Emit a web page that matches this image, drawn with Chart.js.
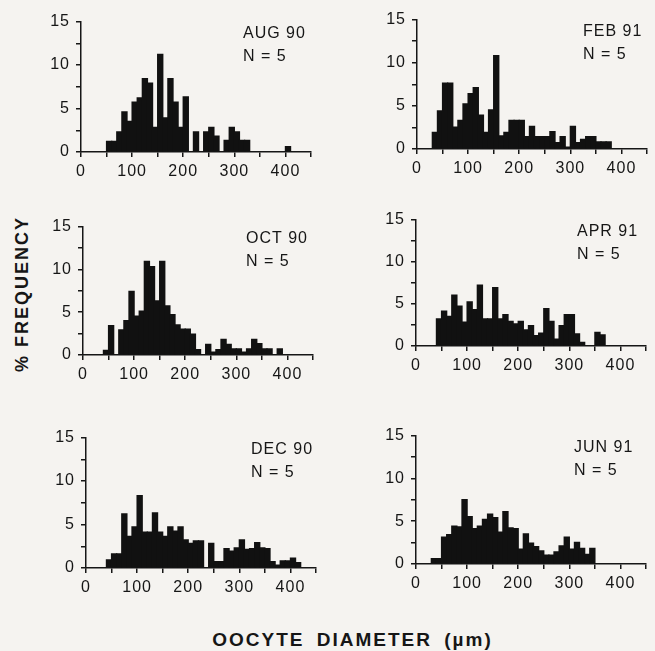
<!DOCTYPE html>
<html>
<head>
<meta charset="utf-8">
<script src="https://cdn.jsdelivr.net/npm/chart.js@4.4.1/dist/chart.umd.min.js"></script>
<style>
  html, body { margin: 0; padding: 0; background: #f5f3f0; }
  body { width: 655px; height: 651px; position: relative; overflow: hidden; font-family: "Liberation Sans", Arial, sans-serif; color: #161616; }
  .panel { position: absolute; }
  .ytitle { position: absolute; left: 22px; top: 294px; transform: translate(-50%, -50%) rotate(-90deg); font-weight: bold; font-size: 18px; letter-spacing: 2px; white-space: nowrap; line-height: 1; }
  .xtitle { position: absolute; left: 0; width: 705px; top: 630px; text-align: center; font-weight: bold; font-size: 19px; letter-spacing: 2px; word-spacing: 5px; white-space: nowrap; line-height: 1; }
</style>
</head>
<body>
<div class="panel" style="left:36px;top:6px"><canvas id="c0" width="285" height="174"></canvas></div>
<div class="panel" style="left:372px;top:4px"><canvas id="c1" width="285" height="173"></canvas></div>
<div class="panel" style="left:38px;top:211px"><canvas id="c2" width="285" height="172"></canvas></div>
<div class="panel" style="left:371px;top:204px"><canvas id="c3" width="285" height="170"></canvas></div>
<div class="panel" style="left:41px;top:422px"><canvas id="c4" width="285" height="174"></canvas></div>
<div class="panel" style="left:371px;top:420px"><canvas id="c5" width="285" height="172"></canvas></div>
<div class="ytitle">% FREQUENCY</div>
<div class="xtitle">OOCYTE DIAMETER (µm)</div>
<script>
// left edge of each 10 µm size class
const binStart = [0, 10, 20, 30, 40, 50, 60, 70, 80, 90,
    100, 110, 120, 130, 140, 150, 160, 170, 180, 190,
    200, 210, 220, 230, 240, 250, 260, 270, 280, 290,
    300, 310, 320, 330, 340, 350, 360, 370, 380, 390,
    400, 410, 420, 430, 440];

// % frequency per size class
const aug90 = [0, 0, 0, 0, 0, 1.3, 1.3, 2.4, 4.7, 3.6,
    5.8, 6.3, 8.5, 8.0, 2.9, 11.3, 4.0, 8.5, 5.8, 2.9,
    6.4, 0, 2.4, 0, 2.4, 2.9, 1.9, 0, 1.4, 2.9,
    2.4, 1.4, 1.4, 0, 0, 0, 0, 0, 0, 0,
    0.7, 0, 0, 0, 0];
const feb91 = [0, 0, 0, 2.0, 4.5, 7.7, 7.7, 2.6, 3.4, 5.3,
    6.5, 7.2, 4.0, 2.0, 4.6, 10.9, 1.6, 2.0, 3.4, 3.4,
    3.4, 1.5, 2.7, 1.5, 1.5, 1.5, 2.1, 0.8, 1.5, 0.3,
    2.7, 0.8, 1.2, 1.5, 1.5, 0.9, 0.9, 0.9, 0, 0,
    0, 0, 0, 0, 0];
const oct90 = [0, 0, 0, 0, 0.6, 3.5, 0, 3.0, 4.1, 7.5,
    4.6, 5.2, 11.0, 10.4, 6.4, 11.0, 5.8, 4.8, 3.6, 3.1,
    3.1, 2.5, 0.7, 0, 1.3, 0.4, 0.7, 1.9, 1.3, 0.8,
    0.8, 0.4, 0.8, 1.9, 1.4, 0.8, 0.8, 0, 0.8, 0,
    0, 0, 0, 0, 0];
const apr91 = [0, 0, 0, 0, 3.3, 4.2, 3.6, 6.1, 4.8, 2.9,
    5.3, 4.4, 7.3, 3.3, 3.3, 7.0, 3.3, 3.8, 3.0, 2.7,
    3.0, 2.0, 2.5, 1.3, 1.6, 4.5, 3.0, 0.9, 2.5, 3.8,
    3.8, 1.5, 0.5, 0.1, 0, 1.7, 1.4, 0, 0, 0,
    0, 0, 0, 0, 0];
const dec90 = [0, 0, 0, 0, 1.0, 1.7, 1.7, 6.3, 3.7, 4.8,
    8.4, 4.2, 4.2, 6.4, 4.2, 3.7, 4.8, 4.3, 4.8, 3.3,
    2.9, 3.2, 3.2, 0, 2.9, 0.8, 0.8, 2.3, 2.0, 2.4,
    3.3, 2.2, 2.3, 3.0, 2.4, 2.3, 0.8, 0.4, 0.9, 0.9,
    1.2, 0.7, 0, 0, 0];
const jun91 = [0, 0, 0, 0.7, 0.7, 3.2, 3.5, 4.5, 4.4, 7.6,
    5.6, 4.2, 4.5, 5.3, 5.9, 5.5, 3.8, 6.2, 4.3, 4.2,
    1.8, 3.6, 2.5, 2.1, 1.6, 1.1, 1.1, 1.5, 2.2, 3.2,
    1.8, 2.6, 1.9, 1.2, 1.9, 0, 0, 0, 0, 0,
    0, 0, 0, 0, 0];

const panelMonths = ['AUG 90', 'FEB 91', 'OCT 90', 'APR 91', 'DEC 90', 'JUN 91'];
const panelSeries = [aug90, feb91, oct90, apr91, dec90, jun91];
const sampleSize = [5, 5, 5, 5, 5, 5];
const xTickLabels = [0, 100, 200, 300, 400];
const yTickLabels = [0, 5, 10, 15];

// where the month label sits, measured from the right edge of the plot
const labelDx = [68, 64, 67, 69, 65, 72];

const FONT = '"Liberation Sans", Arial, sans-serif';
const INK = '#161616';

const spacing = {
    id: 'spacing',
    beforeDraw(chart) {
        chart.ctx.letterSpacing = '1px';
    }
};

const panelLabel = {
    id: 'panelLabel',
    afterDraw(chart, args, opts) {
        const { ctx, chartArea } = chart;
        ctx.save();
        ctx.font = '16px ' + FONT;
        ctx.letterSpacing = '1px';
        ctx.fillStyle = INK;
        ctx.textAlign = 'left';
        ctx.textBaseline = 'alphabetic';
        const x = chartArea.right - opts.dx;
        ctx.fillText(opts.month, x, chartArea.top + 16);
        ctx.fillText('N = ' + opts.n, x, chartArea.top + 39);
        ctx.restore();
    }
};

function NewHistogram(i) {
    const ctx = document.getElementById('c' + i).getContext('2d');
    const values = panelSeries[i];
    const config = {
        type: 'bar',
        data: {
            datasets: [{
                data: values.map((v, k) => ({ x: binStart[k] + 5, y: v })),
                backgroundColor: '#111111',
                borderWidth: 0,
                inflateAmount: 0,
                // a little overlap so adjacent classes join without seams
                barPercentage: 1.25,
                categoryPercentage: 1
            }]
        },
        options: {
            responsive: false,
            animation: false,
            devicePixelRatio: 1,
            layout: {
                padding: { top: 10, right: 10, left: 0, bottom: 0 }
            },
            plugins: {
                legend: { display: false },
                tooltip: { enabled: false },
                panelLabel: { month: panelMonths[i], n: sampleSize[i], dx: labelDx[i] }
            },
            scales: {
                x: {
                    type: 'linear',
                    min: 0,
                    max: 450,
                    offset: false,
                    afterFit: (scale) => { scale.height = 28; },
                    border: { display: true, color: INK, width: 1.5 },
                    grid: {
                        offset: false,
                        drawOnChartArea: false,
                        drawTicks: true,
                        tickLength: 5,
                        color: INK,
                        lineWidth: 1.5
                    },
                    ticks: {
                        stepSize: 50,
                        autoSkip: false,
                        maxRotation: 0,
                        padding: 5,
                        color: INK,
                        font: { family: FONT, size: 16 },
                        callback: (v) => xTickLabels.includes(v) ? String(v) : ''
                    }
                },
                y: {
                    min: 0,
                    max: 15,
                    afterFit: (scale) => { scale.width = 45; },
                    border: { display: true, color: INK, width: 1.5 },
                    grid: {
                        drawOnChartArea: false,
                        drawTicks: true,
                        tickLength: 5,
                        color: INK,
                        lineWidth: 1.5
                    },
                    ticks: {
                        stepSize: 2.5,
                        autoSkip: false,
                        padding: 6,
                        color: INK,
                        font: { family: FONT, size: 16 },
                        callback: (v) => yTickLabels.includes(v) ? String(v) : ''
                    }
                }
            }
        },
        plugins: [spacing, panelLabel]
    };
    return new Chart(ctx, config);
}

for (let i = 0; i < 6; i++) {
    NewHistogram(i);
}
</script>
</body>
</html>
